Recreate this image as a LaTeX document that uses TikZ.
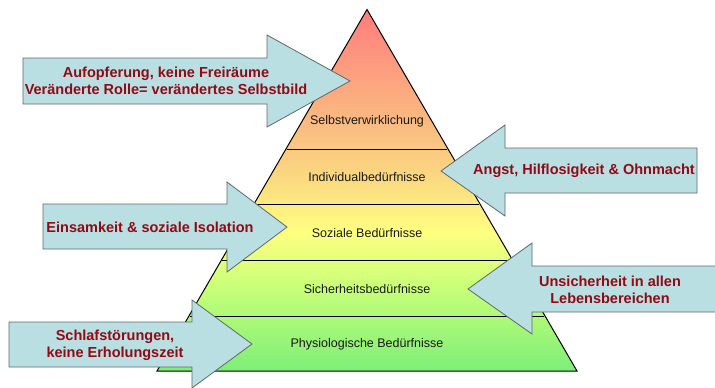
\documentclass[tikz,border=0pt]{standalone}
\usepackage{fontspec}
\setmainfont{Liberation Sans}

\definecolor{arrowfill}{RGB}{185,223,227}
\definecolor{arrowline}{RGB}{95,105,105}
\definecolor{causered}{RGB}{145,10,20}
\definecolor{levelA}{RGB}{125,238,120}
\definecolor{levelB}{RGB}{200,255,120}
\definecolor{levelC}{RGB}{255,255,128}
\definecolor{levelD}{RGB}{250,215,128}
\definecolor{levelE}{RGB}{250,185,128}
\definecolor{levelF}{RGB}{255,125,125}
\pgfdeclareverticalshading{pyramidshade}{100bp}{color(0bp)=(levelA); color(25bp)=(levelA);
  color(36.6bp)=(levelB); color(44.2bp)=(levelC); color(52bp)=(levelD);
  color(59.8bp)=(levelE); color(75bp)=(levelF); color(100bp)=(levelF)}

\begin{document}
\begin{tikzpicture}[x=1pt,y=-1pt,
    needlabel/.style={font=\fontsize{12.5}{14}\selectfont,text=black!90},
    causetext/.style={font=\bfseries\fontsize{14.5}{17}\selectfont,text=causered,align=center},
    causearrow/.style={fill=arrowfill,draw=arrowline,line width=0.8pt}]
    \useasboundingbox (0,0) rectangle (715,388);

    % Draw the pyramid
    \coordinate (apex) at (367,9.5);
    \coordinate (baseleft) at (157,371);
    \coordinate (baseright) at (577,371);
    \shade[shading=pyramidshade] (apex) -- (baseleft) -- (baseright) -- cycle;
    \foreach \y/\w in {149/80,204/112,260/145,316/177}
        \draw[line width=1pt] (367-\w,\y) -- (367+\w,\y);
    \draw[line width=1pt] (apex) -- (baseleft) -- (baseright) -- cycle;

    % Add the levels
    \node[needlabel] (selbst) at (367,121) {Selbstverwirklichung};
    \node[needlabel] (individual) at (367,177) {Individualbedürfnisse};
    \node[needlabel] (sozial) at (367,233) {Soziale Bedürfnisse};
    \node[needlabel] (sicherheit) at (367,289) {Sicherheitsbedürfnisse};
    \node[needlabel] (physio) at (367,344) {Physiologische Bedürfnisse};

    % Add the arrows from the left
    \filldraw[causearrow] (23,58) -- (267,58) -- (267,35) -- (350,81)
        -- (267,127) -- (267,104) -- (23,104) -- cycle;
    \filldraw[causearrow] (43,204) -- (227,204) -- (227,182) -- (287,227)
        -- (227,272) -- (227,249) -- (43,249) -- cycle;
    \filldraw[causearrow] (9,322) -- (192,322) -- (192,300) -- (252,344)
        -- (192,388) -- (192,367) -- (9,367) -- cycle;

    % Add the arrows from the right
    \filldraw[causearrow] (697,148) -- (505,148) -- (505,125) -- (441,171)
        -- (505,216) -- (505,193) -- (697,193) -- cycle;
    \filldraw[causearrow] (716,266) -- (532,266) -- (532,243) -- (468,289)
        -- (532,334) -- (532,312) -- (716,312) -- cycle;

    % Add the burdens
    \node[causetext] (rolle) at (166,81) {Aufopferung, keine Freiräume\\Veränderte Rolle= verändertes Selbstbild};
    \node[causetext] (angst) at (584,171) {Angst, Hilflosigkeit \& Ohnmacht};
    \node[causetext] (einsam) at (150,227) {Einsamkeit \& soziale Isolation};
    \node[causetext] (unsicher) at (610,290) {Unsicherheit in allen\\Lebensbereichen};
    \node[causetext] (schlaf) at (115,345) {Schlafstörungen,\\keine Erholungszeit};
\end{tikzpicture}
\end{document}
